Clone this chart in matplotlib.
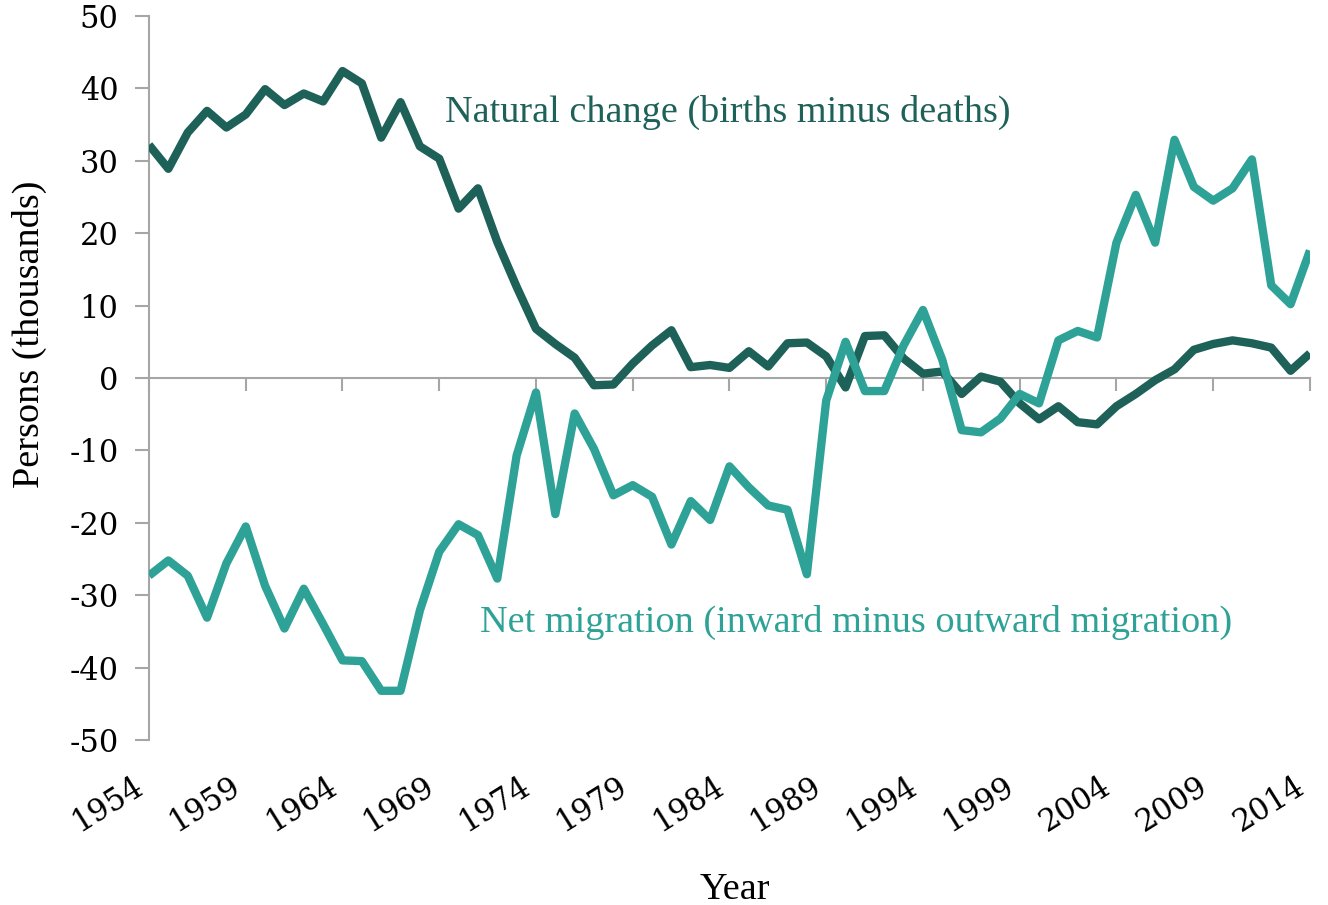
import matplotlib
matplotlib.use("Agg")
import matplotlib.pyplot as plt
import numpy as np

years = list(range(1954, 2015))

natural_change = [
    32.2, 28.9, 33.9, 36.9, 34.6, 36.4, 39.9, 37.7, 39.3, 38.2,
    42.4, 40.7, 33.2, 38.1, 32.0, 30.3, 23.4, 26.2, 18.8, 12.6,
    6.8, 4.7, 2.8, -1.0, -0.9, 2.0, 4.5, 6.6, 1.5, 1.8,
    1.4, 3.7, 1.6, 4.8, 4.9, 3.0, -1.3, 5.8, 5.9, 2.7,
    0.6, 0.9, -2.2, 0.2, -0.5, -3.5, -5.7, -3.9, -6.1, -6.4,
    -3.9, -2.2, -0.3, 1.2, 3.9, 4.7, 5.2, 4.8, 4.2, 1.0,
    3.4,
]

net_migration = [
    -27.3, -25.2, -27.3, -33.1, -25.6, -20.5, -28.7, -34.6, -29.1, -34.0,
    -39.0, -39.1, -43.2, -43.2, -32.1, -24.0, -20.2, -21.7, -27.7, -10.7,
    -2.0, -18.8, -4.9, -9.8, -16.2, -14.8, -16.4, -23.0, -17.0, -19.6,
    -12.2, -15.1, -17.6, -18.2, -27.1, -3.1, 5.0, -1.8, -1.8, 4.5,
    9.4, 2.5, -7.2, -7.5, -5.6, -2.2, -3.5, 5.2, 6.5, 5.6,
    18.7, 25.3, 18.7, 32.9, 26.4, 24.5, 26.2, 30.2, 12.8, 10.2,
    17.6,
]

tick_years = list(range(1954, 2015, 5))
y_ticks = list(range(-50, 51, 10))

dark = "#1d6158"
light = "#2ea296"
axis_gray = "#a6a6a6"
serif = ["DejaVu Serif"]
label_serif = ["Liberation Serif", "DejaVu Serif"]

fig = plt.figure(figsize=(13.28, 9.05), dpi=100)
ax = fig.add_axes([0.1122, 0.1823, 0.8742, 0.8])

ax.plot(years, natural_change, color=dark, lw=6, solid_joinstyle="round", solid_capstyle="butt", zorder=3)
ax.plot(years, net_migration, color=light, lw=6, solid_joinstyle="round", solid_capstyle="butt", zorder=3)

ax.set_xlim(1954, 2014)
ax.set_ylim(-50, 50)

for s in ["top", "right"]:
    ax.spines[s].set_visible(False)
ax.spines["left"].set_color(axis_gray)
ax.spines["left"].set_linewidth(1.5)
ax.spines["bottom"].set_position(("data", 0))
ax.spines["bottom"].set_color(axis_gray)
ax.spines["bottom"].set_linewidth(1.5)

ax.set_yticks(y_ticks)
ax.set_yticklabels([str(v) for v in y_ticks], fontfamily=serif, fontsize=22)
ax.tick_params(axis="y", direction="out", length=10, width=1.5, color=axis_gray, pad=12)

ax.set_xticks(tick_years)
ax.tick_params(axis="x", direction="out", length=9, width=1.5, color=axis_gray, labelbottom=False)

sec = ax.secondary_xaxis("bottom")
sec.spines["bottom"].set_visible(False)
sec.set_xticks(tick_years)
sec.set_xticklabels([str(y) for y in tick_years], fontfamily=serif, fontsize=22,
                    rotation=32, ha="right", rotation_mode="default")
sec.tick_params(axis="x", length=0, pad=22)

ax.set_ylabel("Persons (thousands)", fontfamily=label_serif, fontsize=27.5)
ax.yaxis.set_label_coords(-0.088, 0.56)
ax.set_xlabel("Year", fontfamily=label_serif, fontsize=27.5)
ax.xaxis.set_label_coords(0.505, -0.183)

ax.text(1969.3, 36.7, "Natural change (births minus deaths)", color=dark,
        fontfamily=label_serif, fontsize=27.5, ha="left", va="center")
ax.text(1971.1, -33.8, "Net migration (inward minus outward migration)", color=light,
        fontfamily=label_serif, fontsize=27.5, ha="left", va="center")

fig.savefig("out.png", dpi=100)
